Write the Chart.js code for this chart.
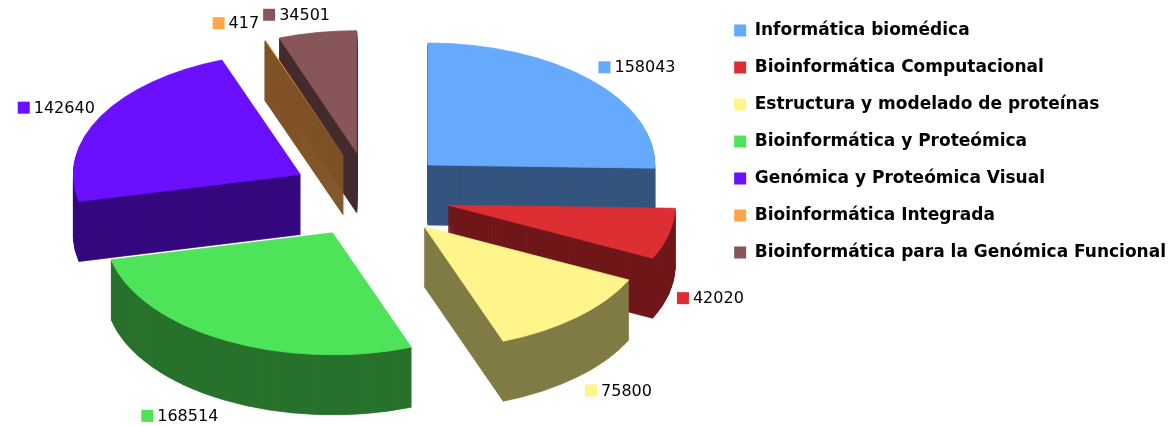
<!DOCTYPE html>
<html>
<head>
<meta charset="utf-8">
<style>
html, body { margin: 0; padding: 0; background: #fff; }
#wrap { width: 1176px; height: 426px; }
</style>
<script src="https://cdn.jsdelivr.net/npm/chart.js@4"></script>
</head>
<body>
<div id="wrap"><canvas id="pie3d"></canvas></div>
<script>
const categories = [
    'Informática biomédica',
    'Bioinformática Computacional',
    'Estructura y modelado de proteínas',
    'Bioinformática y Proteómica',
    'Genómica y Proteómica Visual',
    'Bioinformática Integrada',
    'Bioinformática para la Genómica Funcional'
];
const values = [158043, 42020, 75800, 168514, 142640, 417, 34501];
const topColors = ['#66AAFF', '#DD2E33', '#FFF58A', '#4FE35A', '#6A10FF', '#FFA64D', '#885558'];
const wallColors = ['#33557F', '#6F171A', '#807B45', '#28722D', '#35087F', '#805326', '#442B2C'];

// tilted, exploded pie: the library lays out the arcs, we only tilt and extrude them
const pie3d = {
    id: 'pie3d',
    beforeDatasetsDraw(chart, args, opts) {
        const ctx = chart.ctx;
        const arcs = chart.getDatasetMeta(0).data;
        const midAngle = a => (a.startAngle + a.endAngle) / 2;
        const order = arcs.map((a, i) => i).sort((p, q) => Math.sin(midAngle(arcs[p])) - Math.sin(midAngle(arcs[q])));

        const drawLayer = (arc, fill, lift, border) => {
            const mid = midAngle(arc);
            const layer = Object.create(arc);
            layer.options = { ...arc.options, backgroundColor: fill, borderColor: fill, borderWidth: border };
            ctx.save();
            ctx.translate(arc.x + Math.cos(mid) * opts.explode, arc.y + Math.sin(mid) * opts.explode * opts.tilt + lift);
            ctx.scale(1, opts.tilt);
            ctx.translate(-arc.x, -arc.y);
            layer.draw(ctx);
            ctx.restore();
        };

        order.forEach(i => {
            for (let d = opts.depth; d > 0; d--) {
                drawLayer(arcs[i], wallColors[i], d, 1);
            }
            // the sliver stays thin, a border would make it look bigger than it is
            drawLayer(arcs[i], topColors[i], 0, arcs[i].circumference > 0.05 ? 1 : 0);
        });

        // value labels next to the outer edge of each slice
        ctx.save();
        ctx.font = opts.labelFont;
        ctx.textBaseline = 'middle';
        ctx.textAlign = 'left';
        let prev = null;
        arcs.forEach((arc, i) => {
            const mid = midAngle(arc);
            const c = Math.cos(mid), s = Math.sin(mid);
            const text = String(values[i]);
            const w = opts.marker + opts.markerGap + ctx.measureText(text).width;
            const ax = arc.x + c * (opts.explode + arc.outerRadius);
            const ay = arc.y + s * (opts.explode + arc.outerRadius) * opts.tilt + (s > 0 ? opts.depth : 0);
            let left = c >= 0 ? ax + opts.labelGap : ax - opts.labelGapLeft - w;
            const y = ay + s * opts.labelDrop;
            if (prev && Math.abs(prev.y - y) < 20 && left < prev.right + 4 && left + w > prev.left) {
                left = prev.right + 4;
            }
            ctx.fillStyle = topColors[i];
            ctx.fillRect(left, y - opts.marker / 2, opts.marker, opts.marker);
            ctx.fillStyle = '#000';
            ctx.fillText(text, left + opts.marker + opts.markerGap, y + 1);
            prev = { left: left, right: left + w, y: y };
        });
        ctx.restore();
        return false;
    }
};

new Chart(document.getElementById('pie3d'), {
    type: 'pie',
    data: {
        labels: categories,
        datasets: [{
            data: values,
            backgroundColor: topColors,
            borderWidth: 0
        }]
    },
    options: {
        responsive: true,
        maintainAspectRatio: false,
        animation: false,
        radius: 227,
        layout: { padding: { left: 27, top: 2, right: 0, bottom: 38 } },
        plugins: {
            tooltip: { enabled: false },
            legend: {
                position: 'right',
                align: 'start',
                labels: {
                    boxWidth: 12,
                    boxHeight: 12,
                    padding: 20,
                    color: '#000',
                    font: { family: '"DejaVu Sans"', size: 17, weight: 'bold' }
                }
            },
            pie3d: {
                tilt: 0.5374,
                explode: 80,
                depth: 60,
                marker: 12,
                markerGap: 4,
                labelGap: 8,
                labelGapLeft: 6,
                labelDrop: 18,
                labelFont: '16px "DejaVu Sans"'
            }
        }
    },
    plugins: [pie3d]
});
</script>
</body>
</html>
